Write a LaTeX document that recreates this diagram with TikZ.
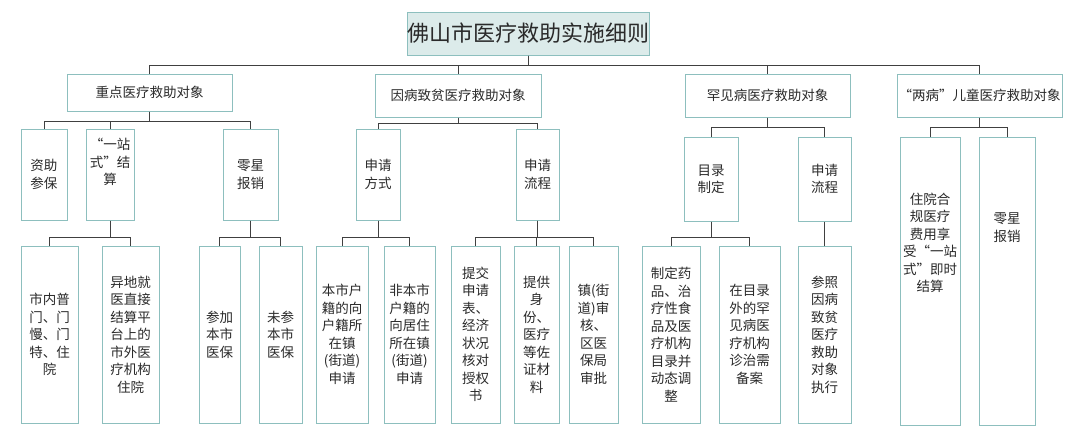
\documentclass[tikz,border=0pt]{standalone}
\usepackage{fontspec}
\setmainfont{Noto Sans CJK SC}
\begin{document}
\begin{tikzpicture}[x=1pt,y=-1pt,
  bx/.style={draw=boxc,line width=1pt,inner sep=0pt,align=center,text=txt,font=\fontsize{13.5}{17.5}\selectfont},
  ttl/.style={bx,fill=ttlfill,font=\fontsize{22}{24}\selectfont},
  ln/.style={draw=lnc,line width=0.9pt}]
\definecolor{boxc}{HTML}{8DBFBE}
\definecolor{ttlfill}{HTML}{DCEBEA}
\definecolor{txt}{HTML}{2A2A2A}
\definecolor{lnc}{HTML}{404040}
\useasboundingbox (0,0) rectangle (1080,437);
\fill[white] (0,0) rectangle (1080,437);
\newcommand\bx[7][bx]{\pgfmathsetmacro\cx{(#3+#5)/2}\pgfmathsetmacro\cy{(#4+#6)/2}%
 \pgfmathsetmacro\ww{#5-#3}\pgfmathsetmacro\hh{#6-#4}%
 \node[#1,minimum width=\ww pt,minimum height=\hh pt] (#2) at (\cx,\cy) {#7};}
\bx[ttl]{t}{424}{12}{633}{55}{佛山市医疗救助实施细则}
\bx{a}{67}{74}{232}{111}{重点医疗救助对象}
\bx{b}{375}{74}{541}{117}{因病致贫医疗救助对象}
\bx{c}{685}{74}{850}{117}{罕见病医疗救助对象}
\bx{d}{897}{74}{1062}{117}{“两病”儿童医疗救助对象}
\bx{a1}{21}{129}{67}{220}{资助\\参保}
\bx{a2}{86}{129}{134}{220}{“一站\\式”结\\算\\[8pt]}
\bx{a3}{223}{129}{278}{220}{零星\\报销}
\bx{b1}{356}{129}{400}{220}{申请\\方式}
\bx{b2}{516}{129}{559}{220}{申请\\流程}
\bx{c1}{684}{137}{738}{221}{目录\\制定}
\bx{c2}{798}{137}{851}{221}{申请\\流程}
\bx{d1}{900}{137}{960}{425}{住院合\\规医疗\\费用享\\受“一站\\式”即时\\结算\\[60pt]}
\bx{d2}{979}{137}{1035}{425}{零星\\报销\\[90pt]}
\bx{a21}{21}{246}{78}{423}{市内普\\门、门\\慢、门\\特、住\\院}
\bx{a22}{102}{246}{159}{423}{异地就\\医直接\\结算平\\台上的\\市外医\\疗机构\\住院}
\bx{a31}{199}{246}{240}{423}{参加\\本市\\医保}
\bx{a32}{259}{246}{302}{423}{未参\\本市\\医保}
\bx{b11}{316}{246}{368}{423}{本市户\\籍的向\\户籍所\\在镇\\(街道)\\申请}
\bx{b12}{384}{246}{435}{423}{非本市\\户籍的\\向居住\\所在镇\\(街道)\\申请}
\bx{b21}{451}{246}{500}{423}{提交\\申请\\表、\\经济\\状况\\核对\\授权\\书}
\bx{b22}{514}{246}{559}{423}{提供\\身\\份、\\医疗\\等佐\\证材\\料}
\bx{b23}{569}{246}{618}{423}{镇(街\\道)审\\核、\\区医\\保局\\审批}
\bx{c11}{642}{246}{700}{423}{制定药\\品、治\\疗性食\\品及医\\疗机构\\目录并\\动态调\\整}
\bx{c12}{719}{246}{780}{423}{在目录\\外的罕\\见病医\\疗机构\\诊治需\\备案}
\bx{c21}{798}{246}{851}{423}{参照\\因病\\致贫\\医疗\\救助\\对象\\执行}
\newcommand\conn[2]{\foreach \ch in {#2}{\draw[ln] (#1.south) -- (#1.south |- 0,\yy) -| (\ch.north);}}
\def\yy{65}\conn{t}{a,b,c,d}
\def\yy{121}\conn{a}{a1,a2,a3}
\def\yy{123}\conn{b}{b1,b2}
\def\yy{127}\conn{c}{c1,c2}
\def\yy{127}\conn{d}{d1,d2}
\def\yy{237}\conn{a2}{a21,a22}
\def\yy{237}\conn{a3}{a31,a32}
\def\yy{237}\conn{b1}{b11,b12}
\def\yy{237}\conn{b2}{b21,b22,b23}
\def\yy{237}\conn{c1}{c11,c12}
\def\yy{237}\conn{c2}{c21}
\end{tikzpicture}
\end{document}
